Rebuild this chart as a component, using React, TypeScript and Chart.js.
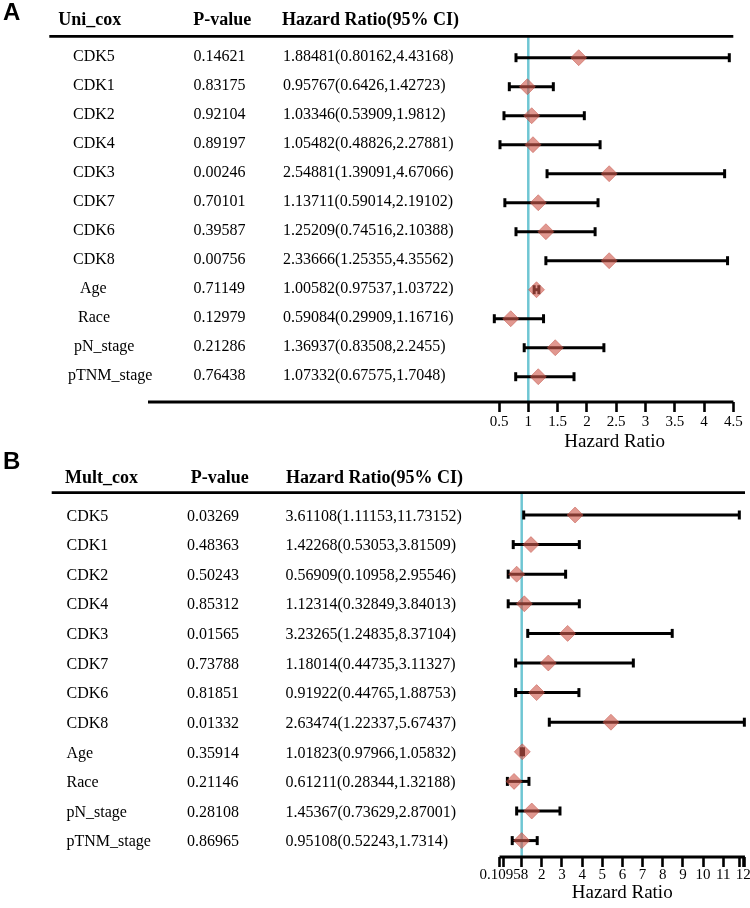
import React, { useEffect, useRef } from "react";
import { Chart, registerables } from "chart.js";

Chart.register(...registerables);

// ---------- data ----------
const variables = ["CDK5", "CDK1", "CDK2", "CDK4", "CDK3", "CDK7", "CDK6", "CDK8", "Age", "Race", "pN_stage", "pTNM_stage"];

// Panel A (univariate Cox) table text
const uniPValues = ["0.14621", "0.83175", "0.92104", "0.89197", "0.00246", "0.70101", "0.39587", "0.00756", "0.71149", "0.12979", "0.21286", "0.76438"];
const uniHRText = [
  "1.88481(0.80162,4.43168)", "0.95767(0.6426,1.42723)", "1.03346(0.53909,1.9812)", "1.05482(0.48826,2.27881)",
  "2.54881(1.39091,4.67066)", "1.13711(0.59014,2.19102)", "1.25209(0.74516,2.10388)", "2.33666(1.25355,4.35562)",
  "1.00582(0.97537,1.03722)", "0.59084(0.29909,1.16716)", "1.36937(0.83508,2.2455)", "1.07332(0.67575,1.7048)",
];
// Panel A plotted marks
const uniHR = [1.86, 0.983, 1.058, 1.08, 2.38, 1.17, 1.30, 2.38, 1.14, 0.70, 1.46, 1.17];
const uniLow = [0.79, 0.676, 0.585, 0.517, 1.32, 0.60, 0.79, 1.30, 1.10, 0.42, 0.93, 0.785];
const uniHigh = [4.43, 1.427, 1.956, 2.225, 4.35, 2.19, 2.14, 4.40, 1.18, 1.26, 2.29, 1.78];
const uniTicks = [0.5, 1, 1.5, 2, 2.5, 3, 3.5, 4, 4.5];
const uniTickLabels = ["0.5", "1", "1.5", "2", "2.5", "3", "3.5", "4", "4.5"];

// Panel B (multivariate Cox) table text
const multPValues = ["0.03269", "0.48363", "0.50243", "0.85312", "0.01565", "0.73788", "0.81851", "0.01332", "0.35914", "0.21146", "0.28108", "0.86965"];
const multHRText = [
  "3.61108(1.11153,11.73152)", "1.42268(0.53053,3.81509)", "0.56909(0.10958,2.95546)", "1.12314(0.32849,3.84013)",
  "3.23265(1.24835,8.37104)", "1.18014(0.44735,3.11327)", "0.91922(0.44765,1.88753)", "2.63474(1.22337,5.67437)",
  "1.01823(0.97966,1.05832)", "0.61211(0.28344,1.32188)", "1.45367(0.73629,2.87001)", "0.95108(0.52243,1.7314)",
];
// Panel B plotted marks
const multHR = [3.65, 1.46, 0.75, 1.13, 3.28, 2.32, 1.74, 5.43, 1.03, 0.62, 1.50, 1.00];
const multLow = [1.10, 0.58, 0.33, 0.33, 1.30, 0.70, 0.70, 2.37, 0.97, 0.29, 0.75, 0.53];
const multHigh = [11.80, 3.86, 3.18, 3.86, 8.47, 6.54, 3.84, 12.05, 1.09, 1.36, 2.90, 1.77];
const multTicks = [-0.1, 0.10958, 1, 2, 3, 4, 5, 6, 7, 8, 9, 10, 11, 11.8, 12, 12.08];
const multTickLabels = ["", "0.10958", "", "2", "3", "4", "5", "6", "7", "8", "9", "10", "11", "", "12", ""];

// ---------- layout ----------
const SERIF = "'Liberation Serif', 'Times New Roman', serif";
const SANS = "'Liberation Sans', Arial, sans-serif";

type Panel = {
  letter: string;
  title: string;
  pText: string[];
  hrText: string[];
  hr: number[];
  low: number[];
  high: number[];
  ticks: number[];
  tickLabels: string[];
  xMin: number;
  xMax: number;
  yMin: number;
  yMax: number;
  height: number;
  top: number;
  padding: { top: number; left: number; right: number; bottom: number };
  tickPadding: number;
  nameX: number[];
  pX: number;
  hrX: number;
  headX: [number, number, number];
  headY: number;
  letterBaseline: number;
  ruleX: [number, number];
  bottomRuleStart: number | null;
  textDy: number;
};

const panels: Panel[] = [
  {
    letter: "A",
    title: "Uni_cox",
    pText: uniPValues,
    hrText: uniHRText,
    hr: uniHR,
    low: uniLow,
    high: uniHigh,
    ticks: uniTicks,
    tickLabels: uniTickLabels,
    xMin: 0.45,
    xMax: 4.5,
    yMin: -0.738,
    yMax: 11.872,
    height: 452,
    top: 0,
    padding: { top: 36.3, left: 496.07, right: 16.6, bottom: 0 },
    tickPadding: 3,
    nameX: [73, 73, 73, 73, 73, 73, 73, 73, 80, 78, 74, 68],
    pX: 193.5,
    hrX: 283,
    headX: [58.3, 193.3, 282],
    headY: 20.8,
    letterBaseline: 20,
    ruleX: [49.3, 733.3],
    bottomRuleStart: 148,
    textDy: -0.5,
  },
  {
    letter: "B",
    title: "Mult_cox",
    pText: multPValues,
    hrText: multHRText,
    hr: multHR,
    low: multLow,
    high: multHigh,
    ticks: multTicks,
    tickLabels: multTickLabels,
    xMin: -0.1,
    xMax: 12.08,
    yMin: -0.753,
    yMax: 11.554,
    height: 456,
    top: 452,
    padding: { top: 40.7, left: 499.53, right: 5.04, bottom: 5 },
    tickPadding: 1,
    nameX: Array(12).fill(66.5),
    pX: 187,
    hrX: 285.5,
    headX: [65, 190.7, 286],
    headY: 26.3,
    letterBaseline: 16.5,
    ruleX: [51.7, 745],
    bottomRuleStart: null,
    textDy: 1.5,
  },
];

function makePlugin(p: Panel) {
  return {
    id: "forestTable" + p.letter,
    beforeDatasetsDraw(chart: any) {
      const { ctx, chartArea, scales } = chart;
      const x1 = scales.x.getPixelForValue(1);
      ctx.save();
      ctx.strokeStyle = "#6fc6d3";
      ctx.lineWidth = 2.5;
      ctx.beginPath();
      ctx.moveTo(x1, chartArea.top + 1);
      ctx.lineTo(x1, chartArea.bottom);
      ctx.stroke();
      ctx.restore();
    },
    afterDraw(chart: any) {
      const { ctx, chartArea, scales } = chart;
      const y = scales.y;
      ctx.save();
      // panel letter
      ctx.fillStyle = "#000";
      ctx.textAlign = "left";
      ctx.textBaseline = "alphabetic";
      ctx.font = `bold 24px ${SANS}`;
      ctx.fillText(p.letter, 3, p.letterBaseline);
      // header
      ctx.textBaseline = "middle";
      ctx.font = `bold 18px ${SERIF}`;
      ctx.fillText(p.title, p.headX[0], p.headY);
      ctx.fillText("P-value", p.headX[1], p.headY);
      ctx.fillText("Hazard Ratio(95% CI)", p.headX[2], p.headY);
      // top rule
      ctx.strokeStyle = "#000";
      ctx.lineWidth = 2.7;
      ctx.beginPath();
      ctx.moveTo(p.ruleX[0], chartArea.top);
      ctx.lineTo(p.ruleX[1], chartArea.top);
      ctx.stroke();
      // bottom rule / axis line
      ctx.lineWidth = 3;
      ctx.beginPath();
      ctx.moveTo(p.bottomRuleStart ?? chartArea.left, chartArea.bottom);
      ctx.lineTo(chartArea.right, chartArea.bottom);
      ctx.stroke();
      // rows
      ctx.font = `16px ${SERIF}`;
      variables.forEach((name, i) => {
        const py = y.getPixelForValue(i) + p.textDy;
        ctx.fillText(name, p.nameX[i], py);
        ctx.fillText(p.pText[i], p.pX, py);
        ctx.fillText(p.hrText[i], p.hrX, py);
      });
      ctx.restore();
    },
  };
}

function ForestPanel({ panel }: { panel: Panel }) {
  const ref = useRef<HTMLCanvasElement | null>(null);
  useEffect(() => {
    if (!ref.current) return;
    const p = panel;
    const diamonds = {
      data: p.hr.map((v, i) => ({ x: v, y: i })),
      pointStyle: "rectRot",
      pointRadius: 8,
      pointBackgroundColor: "rgba(206,88,76,0.62)",
      pointBorderColor: "rgba(190,70,60,0.45)",
      pointBorderWidth: 1,
      showLine: false,
      order: 0,
      clip: false,
    };
    const bars = variables.map((_, i) => ({
      data: [
        { x: p.low[i], y: i },
        { x: p.high[i], y: i },
      ],
      showLine: true,
      borderColor: "#000",
      borderWidth: 3,
      pointStyle: "line",
      pointRotation: 90,
      pointRadius: 4.5,
      pointBorderWidth: 3,
      pointBorderColor: "#000",
      pointBackgroundColor: "#000",
      order: 1,
      clip: false,
    }));
    const chart = new Chart(ref.current, {
      type: "scatter",
      data: { datasets: [diamonds as any, ...(bars as any[])] },
      options: {
        animation: false,
        responsive: false,
        devicePixelRatio: 1,
        events: [],
        layout: { padding: p.padding, autoPadding: false },
        plugins: { legend: { display: false }, tooltip: { enabled: false } },
        scales: {
          x: {
            type: "linear",
            min: p.xMin,
            max: p.xMax,
            afterBuildTicks: (scale: any) => {
              scale.ticks = p.ticks.map((v) => ({ value: v }));
            },
            border: { display: false },
            grid: {
              display: true,
              drawOnChartArea: false,
              drawTicks: true,
              tickLength: 10,
              tickWidth: 2.6,
              tickColor: "#000",
            },
            ticks: {
              autoSkip: false,
              maxRotation: 0,
              minRotation: 0,
              padding: p.tickPadding,
              color: "#000",
              font: { family: SERIF, size: 15, lineHeight: 1 },
              callback: (_v: any, idx: number) => p.tickLabels[idx],
            },
            title: {
              display: true,
              text: "Hazard Ratio",
              color: "#000",
              padding: 0,
              font: { family: SERIF, size: 19, lineHeight: 1 },
            },
          },
          y: {
            type: "linear",
            display: false,
            reverse: true,
            min: p.yMin,
            max: p.yMax,
          },
        },
      } as any,
      plugins: [makePlugin(p)],
    });
    return () => chart.destroy();
  }, [panel]);
  return (
    <canvas
      ref={ref}
      width={750}
      height={panel.height}
      style={{ position: "absolute", left: 0, top: panel.top, width: 750, height: panel.height, display: "block" }}
    />
  );
}

export default function App() {
  return (
    <div style={{ position: "absolute", left: 0, top: 0, width: 750, height: 908, background: "#fff" }}>
      {panels.map((p) => (
        <ForestPanel key={p.letter} panel={p} />
      ))}
    </div>
  );
}
